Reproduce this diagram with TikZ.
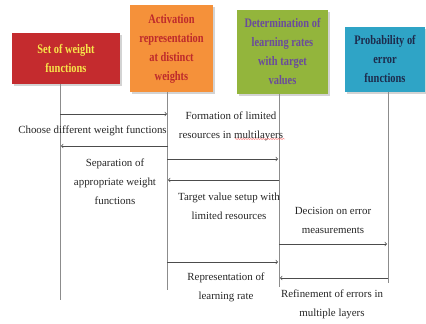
\documentclass[tikz,border=0pt]{standalone}
\usepackage{fontspec}
\setmainfont{Liberation Serif}
\newfontfamily\headfont{Liberation Serif}[FakeStretch=0.8]
\usetikzlibrary{shadows,decorations.pathmorphing}

\definecolor{boxred}{HTML}{C42B2E}
\definecolor{boxorange}{HTML}{F5913A}
\definecolor{boxgreen}{HTML}{93B53C}
\definecolor{boxblue}{HTML}{2FA4C6}
\definecolor{txtyellow}{HTML}{F7E64A}
\definecolor{txtred}{HTML}{BE2A2C}
\definecolor{txtpurple}{HTML}{6A4B9C}
\definecolor{txtnavy}{HTML}{1D2B4C}

\tikzset{
  headbox/.style={align=center, inner sep=2pt,
    font=\headfont\bfseries\fontsize{13}{19}\selectfont,
    drop shadow={opacity=0.35, shadow xshift=1.5pt, shadow yshift=-1.5pt}},
  lifeline/.style={draw=black!45, line width=0.6pt},
  msg/.style={->, draw=black!70, line width=0.7pt},
  msgtext/.style={align=center, inner sep=0pt, text=black!85, font=\fontsize{10.9}{19}\selectfont},
}

\begin{document}
\begin{tikzpicture}[x=1pt, y=-1pt]
      \useasboundingbox (0,0) rectangle (426,324);

      % heads
      \node[headbox, fill=boxred, text=txtyellow, minimum width=108pt, minimum height=51pt]
        (weights) at (66,58.5) {Set of weight\\functions};
      \node[headbox, fill=boxorange, text=txtred, minimum width=83pt, minimum height=87pt]
        (activation) at (171.5,48.5) {Activation\\representation\\at distinct\\weights};
      \node[headbox, fill=boxgreen, text=txtpurple, minimum width=91pt, minimum height=84pt]
        (rates) at (282.5,52) {Determination of\\learning rates\\with target\\values};
      \node[headbox, fill=boxblue, text=txtnavy, minimum width=80pt, minimum height=65pt]
        (errors) at (385,59.5) {Probability of\\error\\functions};

      % lifelines
      \coordinate (top1) at (60,84);   \coordinate (bot1) at (60,300);
      \coordinate (top2) at (167,92);  \coordinate (bot2) at (167,290);
      \coordinate (top3) at (279,94);  \coordinate (bot3) at (279,287);
      \coordinate (top4) at (388,92);  \coordinate (bot4) at (388,283);
      \draw[lifeline] (top1) -- (bot1);
      \draw[lifeline] (top2) -- (bot2);
      \draw[lifeline] (top3) -- (bot3);
      \draw[lifeline] (top4) -- (bot4);

      % messages
      \coordinate (m1a) at (60,114);  \coordinate (m1b) at (167,114);
      \coordinate (m2a) at (168,146); \coordinate (m2b) at (61,146);
      \coordinate (m3a) at (167,159); \coordinate (m3b) at (278,159);
      \coordinate (m4a) at (279,180); \coordinate (m4b) at (168,180);
      \coordinate (m5a) at (279,244); \coordinate (m5b) at (387,244);
      \coordinate (m6a) at (167,262); \coordinate (m6b) at (278,262);
      \coordinate (m7a) at (388,278); \coordinate (m7b) at (280,278);
      \draw[msg] (m1a) -- (m1b);
      \draw[msg] (m2a) -- (m2b);
      \draw[msg] (m3a) -- (m3b);
      \draw[msg] (m4a) -- (m4b);
      \draw[msg] (m5a) -- (m5b);
      \draw[msg] (m6a) -- (m6b);
      \draw[msg] (m7a) -- (m7b);

      % labels
      \node[msgtext] (choose) at (92.5,131) {Choose different weight functions};
      \node[msgtext] (separation) at (115,182) {Separation of\\appropriate weight\\functions};
      \node[msgtext] (formation) at (231,126) {Formation of limited\\resources in multilayers};
      \node[msgtext] (target) at (229,206) {Target value setup with\\limited resources};
      \node[msgtext] (decision) at (333,220) {Decision on error\\measurements};
      \node[msgtext] (representation) at (226,287.5) {Representation of\\learning rate};
      \node[msgtext] (refinement) at (332,304.5) {Refinement of errors in\\multiple layers};

      %squiggle under multilayers
      \draw[red!75, line width=0.3pt, decorate, decoration={snake, amplitude=0.5pt, segment length=2.5pt}]
        (235,139) -- (285,139);
    \end{tikzpicture}
\end{document}
